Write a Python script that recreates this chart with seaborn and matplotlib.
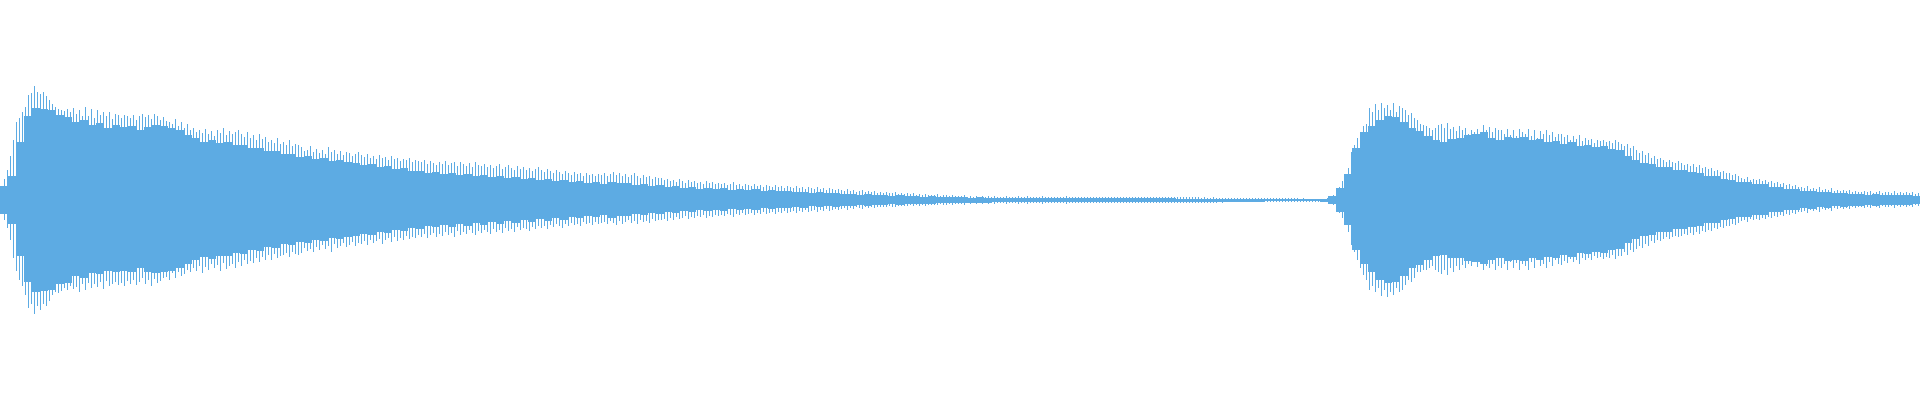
import numpy as np
import pandas as pd
import seaborn as sns
import matplotlib.pyplot as plt

# Waveform peaks (3 samples wide each)
peak_top = [
    14,21,30,44,60,78,82,88,93,105,107,114,108,106,108,104,100,96,93,91,
    90,89,91,88,92,86,90,84,93,84,91,82,90,85,88,84,88,81,86,85,
    82,85,84,82,85,80,84,86,83,85,81,86,84,80,83,79,78,76,81,74,
    78,72,76,70,72,68,70,67,71,66,69,64,70,67,72,65,69,66,68,70,
    66,63,68,62,65,60,66,61,63,58,60,57,62,56,58,55,60,54,56,55,
    53,49,50,54,48,51,47,50,46,53,48,50,46,49,45,48,47,44,46,48,
    45,43,46,42,44,41,45,42,43,40,44,41,42,39,41,40,42,38,40,39,
    38,40,36,39,37,35,38,36,39,35,37,38,34,38,36,34,37,33,38,35,
    34,36,33,35,32,34,36,31,33,35,32,30,34,31,33,30,32,29,31,33,
    30,28,31,29,27,30,28,26,29,27,25,28,26,27,24,27,25,26,24,26,
    25,27,24,26,28,25,27,24,26,23,25,27,24,22,25,23,24,21,23,22,
    22,20,21,19,20,18,21,19,17,20,18,19,17,18,16,19,17,18,16,17,
    16,17,15,16,18,15,16,14,16,15,14,16,14,15,13,15,14,13,15,13,
    14,12,14,13,12,14,12,13,11,13,12,11,13,11,12,10,12,11,10,11,
    10,9,11,9,10,8,9,10,8,9,8,9,7,8,7,8,7,7,8,6,
    7,6,7,6,7,5.5,6,5,6,5,5.5,5,6,4.5,5,5,4,5,4,4.5,
    4,5,3.5,4,3.5,4.5,3.5,4,3,4,3,4,3,3.5,3,4,3,3.5,3,4,
    3.5,3,4,3,3.5,3,3,4,3,3.5,3,3,3.5,3,3,4,3,3,3.5,3,
    3,3.5,3,3,3,3.5,3,3,3.5,3,3,3,3.5,3,3,3,3.5,3,3,3,
    3,3.5,3,3,3,3,3.5,3,3,3,3.5,3,3,3,3.5,3,3,3,3,3,
    2.5,3,2.5,2.5,3,2.5,2,2.5,2.5,2,2.5,2,2.5,2,2.5,2,2,2.5,2,2,
    2,2.5,2,2,2,2.5,2,2,2,2,2.5,2,2,1.5,2,1.5,1.5,1.5,1.5,1.5,
    1.5,1.5,2,3,5,8,13,19,25,32,48,55,62,68,74,76,92,88,96,90,
    97,92,95,90,97,88,94,92,90,85,87,82,80,76,75,74,72,70,72,75,
    76,72,77,71,73,69,74,70,72,66,70,68,71,67,75,70,73,68,72,70,
    70,66,71,65,70,64,71,68,66,71,64,70,62,69,66,70,65,68,63,66,
    66,63,65,60,64,61,65,59,62,60,61,57,60,59,60,58,59,57,60,58,
    56,54,56,52,54,50,47,49,45,47,42,44,41,42,40,38,40,38,37,39,
    37,35,36,34,36,33,35,32,33,31,32,29,30,28,29,27,27,25,26,24,
    22,21,23,20,21,20,21,19,20,18,19,17,18,16,17,15,16,14,15,13,
    13,12,14,11,12,11,13,10,11,10,12,9,10,9,10,9,10,8,9,8,
    8,9,8,9,7,8,9,7,8,8,7,9,7,8,7,8,7,8,6,7,
]
peak_bottom = [
    -14,-20,-28,-40,-58,-71,-80,-86,-95,-108,-104,-114,-106,-110,-104,-106,-101,-95,-92,-93,
    -91,-88,-90,-86,-89,-87,-92,-84,-90,-83,-88,-84,-87,-82,-89,-81,-86,-84,-82,-85,
    -83,-86,-81,-84,-80,-85,-82,-78,-84,-80,-86,-79,-83,-81,-78,-77,-80,-73,-78,-72,
    -76,-74,-70,-72,-68,-71,-66,-73,-67,-70,-64,-68,-65,-71,-63,-69,-66,-64,-68,-62,
    -66,-60,-64,-61,-63,-58,-62,-57,-60,-55,-60,-54,-58,-56,-55,-53,-57,-52,-54,-55,
    -53,-48,-51,-49,-52,-47,-50,-45,-49,-46,-52,-44,-48,-46,-43,-47,-45,-42,-46,-43,
    -44,-41,-45,-40,-43,-41,-39,-44,-40,-38,-42,-37,-41,-38,-40,-36,-39,-37,-38,-35,
    -37,-34,-38,-35,-33,-37,-34,-36,-32,-35,-33,-37,-31,-35,-32,-34,-30,-33,-35,-31,
    -33,-30,-32,-34,-29,-32,-30,-33,-28,-31,-29,-32,-27,-30,-28,-29,-31,-27,-29,-26,
    -28,-26,-29,-25,-27,-24,-26,-28,-24,-26,-23,-25,-24,-26,-22,-24,-23,-25,-22,-24,
    -23,-22,-24,-21,-23,-25,-21,-24,-22,-20,-23,-21,-24,-20,-22,-21,-23,-19,-21,-20,
    -20,-19,-21,-18,-20,-17,-19,-18,-16,-19,-17,-18,-16,-17,-15,-18,-16,-17,-15,-16,
    -15,-16,-14,-15,-17,-14,-15,-13,-15,-14,-13,-15,-13,-14,-12,-14,-13,-12,-14,-12,
    -13,-11,-13,-12,-11,-13,-11,-12,-10,-12,-11,-10,-12,-10,-11,-9,-11,-10,-9,-10,
    -9,-8,-10,-8,-9,-7,-8,-9,-7,-8,-7,-8,-6.5,-7,-6.5,-7,-6,-6.5,-7,-5.5,
    -6,-5.5,-6,-5,-6,-5,-5.5,-4.5,-5.5,-4.5,-5,-4.5,-5,-4,-4.5,-4.5,-3.5,-4.5,-3.5,-4,
    -4,-4.5,-3,-3.5,-3,-4,-3,-3.5,-3,-3.5,-3,-3.5,-3,-3,-3,-3.5,-3,-3,-3,-3.5,
    -3,-3,-3.5,-3,-3,-3,-3,-3.5,-3,-3,-3,-3,-3,-3,-3,-3.5,-3,-3,-3,-3,
    -3,-3,-3,-3,-3,-3,-3,-3,-3,-3,-3,-3,-3,-3,-3,-3,-3,-3,-3,-3,
    -3,-3,-3,-3,-3,-3,-3,-3,-3,-3,-3,-3,-3,-3,-3,-3,-3,-3,-3,-3,
    -2.5,-2.5,-2.5,-2.5,-2.5,-2.5,-2,-2.5,-2,-2,-2,-2,-2,-2,-2,-2,-2,-2,-2,-2,
    -2,-2,-2,-2,-2,-2,-2,-2,-2,-2,-2,-2,-2,-1.5,-1.5,-1.5,-1.5,-1.5,-1.5,-1.5,
    -1.5,-1.5,-2,-3,-5,-8,-13,-18,-24,-32,-45,-52,-60,-68,-75,-80,-90,-86,-92,-88,
    -96,-90,-97,-92,-95,-88,-92,-90,-85,-80,-82,-78,-72,-72,-70,-70,-68,-66,-70,-72,
    -74,-70,-75,-68,-72,-66,-70,-65,-68,-64,-66,-62,-67,-64,-70,-66,-68,-64,-70,-66,
    -68,-64,-70,-62,-68,-63,-70,-64,-66,-70,-62,-68,-60,-66,-64,-68,-62,-66,-60,-64,
    -65,-61,-63,-59,-62,-60,-64,-58,-60,-58,-60,-56,-58,-57,-59,-57,-58,-55,-59,-56,
    -56,-52,-55,-50,-52,-49,-46,-48,-44,-46,-41,-43,-40,-41,-39,-37,-39,-37,-36,-37,
    -36,-34,-35,-33,-35,-32,-34,-31,-32,-30,-31,-28,-29,-27,-28,-26,-26,-24,-25,-23,
    -21,-20,-22,-19,-20,-19,-20,-18,-19,-17,-18,-16,-17,-15,-16,-14,-15,-13,-14,-12,
    -12,-11,-13,-10,-11,-10,-12,-9,-10,-9,-11,-8,-9,-8,-9,-8,-9,-7,-8,-7,
    -7,-8,-7,-8,-6,-7,-8,-6,-7,-7,-6,-8,-6,-7,-6,-7,-6,-7,-5,-6,
]

# Solid part of the wave under the peaks (8 samples wide each)
body_top = [
    14,24,58,84,92,91,90,85,83,78,80,75,77,72,75,
    73,74,70,73,75,74,72,70,65,62,58,60,57,58,55,
    55,52,52,49,49,46,46,43,44,41,42,39,40,38,37,
    35,36,33,34,31,32,29,29,27,28,26,27,25,26,24,
    25,23,24,22,23,21,22,20,21,19,20,18,19,17,18,
    16,18,17,17,15,16,14,15,13,14,12,13,11,12,11,
    12,10,11,10,11,9,10,9,9,8,8,7,8,7,7,
    6,6.5,5.5,6,5,5,4.5,5,4,4.5,3.5,4,3,3.5,3,
    3,2.5,3,2.5,2.5,2,2.5,2,2,2,2,2,2,2,2,
    2,2,2,2,2,2,2,2,2,2,2,2,1.5,1.5,1.5,
    1.5,1.5,1.5,1.5,1.5,1.5,1.5,1.5,1,1,1,1,1,1,1,
    1.5,4,12,26,52,68,74,80,84,83,78,72,69,64,60,
    58,61,62,65,66,68,62,60,63,62,63,60,61,58,59,
    56,58,54,55,53,54,51,50,44,40,37,36,33,33,30,
    30,28,27,24,24,21,20,18,18,16,16,13,13,11,11,
    9,9,8,8,7,7,6,6.5,5.5,6,5,5.5,5,5,4.5,
]
body_bottom = [
    -14,-24,-56,-82,-92,-91,-90,-84,-83,-76,-78,-73,-74,-71,-72,
    -71,-72,-68,-72,-73,-72,-71,-68,-64,-60,-57,-59,-56,-56,-53,
    -54,-50,-51,-47,-48,-44,-45,-42,-43,-40,-41,-38,-39,-37,-36,
    -34,-35,-32,-33,-30,-31,-28,-29,-26,-27,-25,-27,-24,-26,-23,
    -25,-22,-24,-21,-23,-20,-22,-19,-21,-18,-20,-17,-18,-16,-17,
    -15,-18,-16,-16,-14,-15,-13,-14,-12,-13,-11,-12,-10,-11,-10,
    -11,-9,-10,-9,-10,-8,-9,-8,-8,-7,-8,-6,-7,-6,-7,
    -5.5,-6,-5,-5.5,-4.5,-5,-4,-4.5,-3.5,-4,-3.5,-3.5,-3,-3,-3,
    -3,-2.5,-2.5,-2.5,-2,-2,-2,-2,-2,-2,-2,-2,-2,-2,-2,
    -2,-2,-2,-2,-2,-2,-2,-2,-2,-2,-2,-2,-1.5,-1.5,-1.5,
    -1.5,-1.5,-1.5,-1.5,-1.5,-1.5,-1.5,-1.5,-1,-1,-1,-1,-1,-1,-1,
    -1.5,-4,-12,-25,-50,-64,-72,-80,-83,-82,-76,-68,-65,-60,-56,
    -55,-58,-58,-61,-62,-64,-60,-58,-61,-60,-61,-58,-60,-57,-58,
    -55,-57,-53,-54,-52,-53,-50,-49,-43,-39,-36,-35,-32,-32,-29,
    -29,-27,-26,-23,-23,-20,-19,-17,-17,-15,-15,-12,-12,-10,-10,
    -8,-8.5,-7,-7.5,-6,-6.5,-5.5,-6,-5,-5.5,-5,-5,-4.5,-4.5,-4,
]

wave_color = "#5dabe3"

df_peaks = pd.DataFrame({"sample": np.arange(len(peak_top)) * 3 + 1.5,
                         "top": peak_top, "bottom": peak_bottom})
df_body = pd.DataFrame({"sample": np.arange(len(body_top)) * 8 + 4,
                        "top": body_top, "bottom": body_bottom})

sns.set_style("white")
fig = plt.figure(figsize=(19.2, 4), dpi=100)
ax = fig.add_axes([0, 0, 1, 1])

# Solid part first, peaks on top of it
for col in ["top", "bottom"]:
    sns.barplot(data=df_body, x="sample", y=col, native_scale=True, width=1,
                color=wave_color, saturation=1, errorbar=None, linewidth=0, ax=ax)
    sns.barplot(data=df_peaks, x="sample", y=col, native_scale=True, width=0.6,
                color=wave_color, saturation=1, errorbar=None, linewidth=0, ax=ax)

for patch in ax.patches:
    patch.set_antialiased(False)

ax.set_xlim(0, 1920)
ax.set_ylim(-200, 200)
ax.axis("off")

fig.savefig("out.png", dpi=100)
